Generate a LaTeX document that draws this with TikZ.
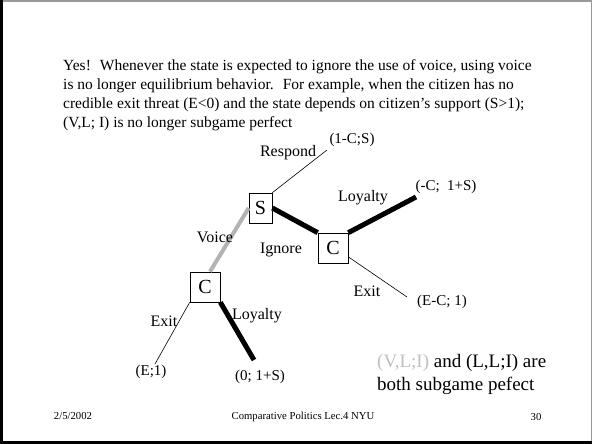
\documentclass[tikz,border=0pt]{standalone}
\usepackage{fontspec}
\setmainfont{Liberation Serif}
\usetikzlibrary{calc,positioning}
\tikzset{
  decision/.style={
    rectangle,
    draw=black, line width=0.7pt,
    fill=white,
    inner sep=0pt,
    minimum width=30pt,
    minimum height=30pt,
    font=\fontsize{20}{24}\selectfont},
  move/.style={font=\fontsize{16}{19}\selectfont},
  payoff/.style={font=\fontsize{15}{18}\selectfont},
  branch/.style={draw, line width=0.6pt},
  eqpath/.style={draw, line width=5pt},
  voicepath/.style={draw=black!30, line width=4pt},
  footer/.style={font=\fontsize{10.7}{13}\selectfont},
}
\begin{document}
\begin{tikzpicture}[x=1pt,y=-1pt]
  % slide frame
  \useasboundingbox (0,0) rectangle (592,444);
  \draw[black!40, line width=2pt] (0,1) -- (592,1);
  \draw[black!40, line width=1pt] (591.5,0) -- (591.5,444);
  \draw[line width=3pt] (1.5,0) -- (1.5,444);
  \draw[line width=3pt] (0,442.5) -- (592,442.5);

  \node[anchor=north west, inner sep=0pt, align=left,
    font=\fontsize{15.5}{19}\selectfont] (intro) at (63,59)
    {Yes!~ Whenever the state is expected to ignore the use of voice, using voice\\
     is no longer equilibrium behavior.~ For example, when the citizen has no\\
     credible exit threat (E<0) and the state depends on citizen’s support (S>1);\\
     (V,L; I) is no longer subgame perfect};

  % decision nodes
  \node[decision, minimum width=23pt] (S) at (260.5,208) {S};
  \node[decision] (Cr) at (333,248) {C};
  \node[decision] (Cl) at (205,287) {C};

  % ends of the branches
  \coordinate (respond end) at (327,150);
  \coordinate (loyal r end) at (416,197);
  \coordinate (exit r end) at (407,297);
  \coordinate (exit l end) at (155,364);
  \coordinate (loyal l end) at (254,360);

  \draw[branch] (S.north east) -- (respond end);
  \draw[voicepath] (S.west) -- ([xshift=5pt]Cl.north);
  \draw[eqpath] (S.east) -- (Cr.north west);
  \draw[eqpath] (Cr.north east) -- (loyal r end);
  \draw[branch] (Cr.-30) -- (exit r end);
  \draw[branch] (Cl.south west) -- (exit l end);
  \draw[eqpath] (Cl.south east) -- (loyal l end);

  % moves
  \node[move] (respond) at (288,153) {Respond};
  \node[move] (voice) at (215,237) {Voice};
  \node[move] (ignore) at (281,250) {Ignore};
  \node[move] (loyalty r) at (363,198) {Loyalty};
  \node[move] (exit r) at (367,291) {Exit};
  \node[move] (exit l) at (164,321) {Exit};
  \node[move] (loyalty l) at (257,316) {Loyalty};

  % payoffs
  \node[payoff] (pay respond) at (352,140) {(1-C;S)};
  \node[payoff] (pay loyal r) at (446,187) {(-C;\ \ 1+S)};
  \node[payoff] (pay exit r) at (442,302) {(E-C; 1)};
  \node[payoff] (pay exit l) at (151,372) {(E;1)};
  \node[payoff] (pay loyal l) at (260,377) {(0; 1+S)};

  \node[anchor=west, inner sep=0pt, align=left,
    font=\fontsize{19}{23}\selectfont] (spe) at (377,374)
    {\textcolor{black!25}{(V,L;I)} and (L,L;I) are\\ both subgame pefect};

  % footer
  \node[footer] (date) at (73,416) {2/5/2002};
  \node[footer] (course) at (303,417) {Comparative Politics Lec.4 NYU};
  \node[footer] (page) at (536,417) {30};
\end{tikzpicture}
\end{document}
